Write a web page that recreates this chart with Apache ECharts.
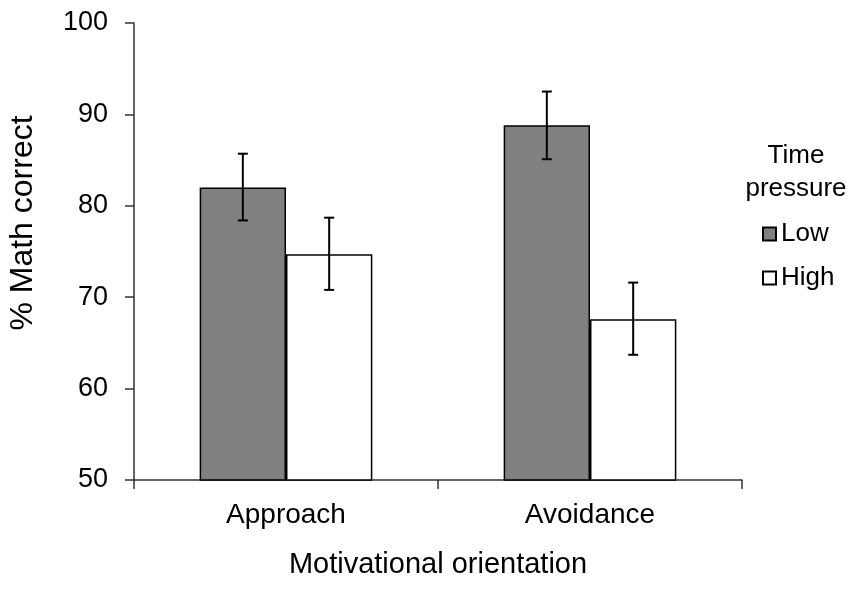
<!DOCTYPE html>
<html>
<head>
<meta charset="utf-8">
<script src="https://cdn.jsdelivr.net/npm/echarts@6/dist/echarts.min.js"></script>
<style>
  html, body { margin: 0; padding: 0; background: #fff; }
  #chart { width: 858px; height: 590px; }
</style>
</head>
<body>
<div id="chart"></div>
<script>
  // values
  var categories = ['Approach', 'Avoidance'];
  var lowValues = [82.0, 88.8];
  var highValues = [74.7, 67.6];
  var lowErrLo = [78.4, 85.1];
  var lowErrHi = [85.7, 92.5];
  var highErrLo = [70.8, 63.7];
  var highErrHi = [78.7, 71.6];

  var font = 'Liberation Sans, Arial, sans-serif';
  var barFrac = 0.284;

  function errorSeries(lo, hi, side) {
    var d = [];
    for (var i = 0; i < categories.length; i++) d.push([i, lo[i], hi[i]]);
    return {
      type: 'custom',
      data: d,
      z: 10,
      silent: true,
      renderItem: function (params, api) {
        var band = api.size([1, 0])[0];
        var off = side * band * barFrac / 2;
        var p1 = api.coord([api.value(0), api.value(1)]);
        var p2 = api.coord([api.value(0), api.value(2)]);
        var x = p1[0] + off;
        var cap = 5;
        var st = { stroke: '#000', lineWidth: 2 };
        return {
          type: 'group',
          children: [
            { type: 'line', shape: { x1: x, y1: p1[1], x2: x, y2: p2[1] }, style: st },
            { type: 'line', shape: { x1: x - cap, y1: p1[1], x2: x + cap, y2: p1[1] }, style: st },
            { type: 'line', shape: { x1: x - cap, y1: p2[1], x2: x + cap, y2: p2[1] }, style: st }
          ]
        };
      }
    };
  }

  var chart = echarts.init(document.getElementById('chart'));
  var option = {
    animation: false,
    backgroundColor: '#fff',
    textStyle: { fontFamily: font },
    grid: { left: 134, right: 116, top: 23, bottom: 110, containLabel: false },
    legend: {
      orient: 'vertical',
      left: 757,
      top: 216,
      itemWidth: 13,
      itemHeight: 13,
      itemGap: 18,
      icon: 'rect',
      data: ['Low', 'High'],
      textStyle: { fontSize: 26, color: '#000', fontFamily: font, padding: [0, 0, 0, 0] }
    },
    graphic: [{
      type: 'text',
      x: 796,
      y: 139,
      style: {
        text: 'Time\npressure',
        fontSize: 26,
        lineHeight: 33,
        fill: '#000',
        fontFamily: font,
        align: 'center',
        verticalAlign: 'top'
      }
    }, {
      type: 'text',
      x: 23,
      y: 223,
      rotation: Math.PI / 2,
      style: {
        text: '% Math correct',
        fontSize: 32,
        fill: '#000',
        fontFamily: font,
        align: 'center',
        verticalAlign: 'middle'
      }
    }],
    xAxis: {
      type: 'category',
      data: categories,
      name: 'Motivational orientation',
      nameLocation: 'middle',
      nameGap: 70,
      nameTextStyle: { fontSize: 29, color: '#000', fontFamily: font },
      axisLine: { lineStyle: { color: '#333', width: 1.5 } },
      axisTick: { show: true, length: 9, lineStyle: { color: '#333', width: 1.5 } },
      axisLabel: { fontSize: 28, color: '#000', margin: 21, fontFamily: font }
    },
    yAxis: {
      type: 'value',
      min: 50,
      max: 100,
      interval: 10,
      axisLine: { show: true, lineStyle: { color: '#333', width: 1.5 } },
      axisTick: { show: true, length: 9, lineStyle: { color: '#333', width: 1.5 } },
      axisLabel: { fontSize: 27, color: '#000', margin: 26, fontFamily: font },
      splitLine: { show: false }
    },
    series: [
      {
        name: 'Low',
        type: 'bar',
        data: lowValues,
        barWidth: (barFrac * 100) + '%',
        barGap: '0%',
        itemStyle: { color: '#808080', borderColor: '#000', borderWidth: 1.5 }
      },
      {
        name: 'High',
        type: 'bar',
        data: highValues,
        barWidth: (barFrac * 100) + '%',
        barGap: '0%',
        itemStyle: { color: '#fff', borderColor: '#000', borderWidth: 1.5 }
      },
      errorSeries(lowErrLo, lowErrHi, -1),
      errorSeries(highErrLo, highErrHi, 1)
    ]
  };
  chart.setOption(option);
</script>
</body>
</html>
